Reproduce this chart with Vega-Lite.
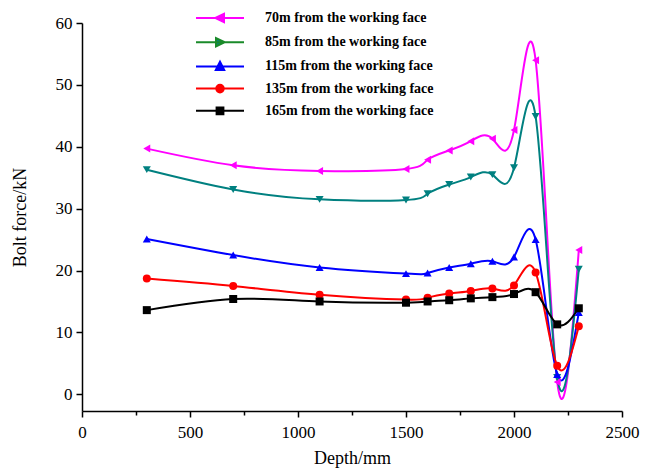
{
  "$schema": "https://vega.github.io/schema/vega-lite/v6.json",
  "autosize": "none",
  "width": 540,
  "height": 388,
  "padding": {"left": 82, "top": 23, "right": 27, "bottom": 58},
  "background": "white",
  "config": {
    "view": {"stroke": null},
    "axis": {
      "domainColor": "black", "domainWidth": 1.5, "tickColor": "black", "tickWidth": 1.5,
      "labelColor": "black", "labelFont": "Liberation Serif", "labelFontSize": 17,
      "titleColor": "black", "titleFont": "Liberation Serif", "titleFontSize": 18, "titleFontWeight": "normal",
      "grid": false
    },
    "legend": {
      "labelFont": "Liberation Serif", "labelFontWeight": "bold", "labelFontSize": 14, "labelColor": "black", "labelLimit": 0,
      "symbolSize": 64, "symbolStrokeWidth": 2, "labelOffset": 38, "rowPadding": 6.2, "padding": 0
    }
  },
  "data": {"values": [
    {"series": "70m from the working face", "depth": 300, "force": 39.7},
    {"series": "70m from the working face", "depth": 700, "force": 37.0},
    {"series": "70m from the working face", "depth": 1100, "force": 36.1},
    {"series": "70m from the working face", "depth": 1500, "force": 36.4},
    {"series": "70m from the working face", "depth": 1600, "force": 37.9},
    {"series": "70m from the working face", "depth": 1700, "force": 39.4},
    {"series": "70m from the working face", "depth": 1800, "force": 40.9},
    {"series": "70m from the working face", "depth": 1900, "force": 41.3},
    {"series": "70m from the working face", "depth": 2000, "force": 42.7},
    {"series": "70m from the working face", "depth": 2100, "force": 54.0},
    {"series": "70m from the working face", "depth": 2200, "force": 2.0},
    {"series": "70m from the working face", "depth": 2300, "force": 23.3},
    {"series": "85m from the working face", "depth": 300, "force": 36.3},
    {"series": "85m from the working face", "depth": 700, "force": 33.1},
    {"series": "85m from the working face", "depth": 1100, "force": 31.5},
    {"series": "85m from the working face", "depth": 1500, "force": 31.4},
    {"series": "85m from the working face", "depth": 1600, "force": 32.4},
    {"series": "85m from the working face", "depth": 1700, "force": 33.9},
    {"series": "85m from the working face", "depth": 1800, "force": 35.1},
    {"series": "85m from the working face", "depth": 1900, "force": 35.5},
    {"series": "85m from the working face", "depth": 2000, "force": 36.6},
    {"series": "85m from the working face", "depth": 2100, "force": 44.9},
    {"series": "85m from the working face", "depth": 2200, "force": 2.7},
    {"series": "85m from the working face", "depth": 2300, "force": 20.2},
    {"series": "115m from the working face", "depth": 300, "force": 25.1},
    {"series": "115m from the working face", "depth": 700, "force": 22.5},
    {"series": "115m from the working face", "depth": 1100, "force": 20.5},
    {"series": "115m from the working face", "depth": 1500, "force": 19.5},
    {"series": "115m from the working face", "depth": 1600, "force": 19.6},
    {"series": "115m from the working face", "depth": 1700, "force": 20.5},
    {"series": "115m from the working face", "depth": 1800, "force": 21.1},
    {"series": "115m from the working face", "depth": 1900, "force": 21.5},
    {"series": "115m from the working face", "depth": 2000, "force": 22.2},
    {"series": "115m from the working face", "depth": 2100, "force": 25.0},
    {"series": "115m from the working face", "depth": 2200, "force": 3.2},
    {"series": "115m from the working face", "depth": 2300, "force": 13.2},
    {"series": "135m from the working face", "depth": 300, "force": 18.7},
    {"series": "135m from the working face", "depth": 700, "force": 17.5},
    {"series": "135m from the working face", "depth": 1100, "force": 16.1},
    {"series": "135m from the working face", "depth": 1500, "force": 15.3},
    {"series": "135m from the working face", "depth": 1600, "force": 15.6},
    {"series": "135m from the working face", "depth": 1700, "force": 16.3},
    {"series": "135m from the working face", "depth": 1800, "force": 16.7},
    {"series": "135m from the working face", "depth": 1900, "force": 17.1},
    {"series": "135m from the working face", "depth": 2000, "force": 17.6},
    {"series": "135m from the working face", "depth": 2100, "force": 19.7},
    {"series": "135m from the working face", "depth": 2200, "force": 4.6},
    {"series": "135m from the working face", "depth": 2300, "force": 11.0},
    {"series": "165m from the working face", "depth": 300, "force": 13.6},
    {"series": "165m from the working face", "depth": 700, "force": 15.4},
    {"series": "165m from the working face", "depth": 1100, "force": 15.0},
    {"series": "165m from the working face", "depth": 1500, "force": 14.8},
    {"series": "165m from the working face", "depth": 1600, "force": 15.0},
    {"series": "165m from the working face", "depth": 1700, "force": 15.2},
    {"series": "165m from the working face", "depth": 1800, "force": 15.5},
    {"series": "165m from the working face", "depth": 1900, "force": 15.7},
    {"series": "165m from the working face", "depth": 2000, "force": 16.2},
    {"series": "165m from the working face", "depth": 2100, "force": 16.5},
    {"series": "165m from the working face", "depth": 2200, "force": 11.3},
    {"series": "165m from the working face", "depth": 2300, "force": 13.9}
  ]},
  "resolve": {"scale": {"shape": "independent", "fill": "independent", "stroke": "independent"}},
  "layer": [
    {
      "mark": {"type": "line", "interpolate": "natural", "strokeWidth": 2},
      "encoding": {
        "x": {"field": "depth", "type": "quantitative", "scale": {"domain": [0, 2500], "nice": false, "zero": false},
          "axis": {"title": "Depth/mm", "values": [0, 250, 500, 750, 1000, 1250, 1500, 1750, 2000, 2250, 2500], "format": "d",
            "labelExpr": "datum.value % 500 === 0 ? datum.label : ''",
            "tickSize": {"condition": {"test": "datum.value % 500 === 0", "value": 6}, "value": 4},
            "labelFlush": false, "labelPadding": 7, "titlePadding": 9, "orient": "bottom"}},
        "y": {"field": "force", "type": "quantitative", "scale": {"domain": [-2.7, 60], "nice": false, "zero": false},
          "axis": {"title": "Bolt force/kN", "values": [0, 5, 10, 15, 20, 25, 30, 35, 40, 45, 50, 55, 60], "format": "d",
            "labelExpr": "datum.value % 10 === 0 ? datum.label : ''",
            "tickSize": {"condition": {"test": "datum.value % 10 === 0", "value": 6}, "value": 4},
            "labelFlush": false, "labelPadding": 4, "titlePadding": 26, "orient": "left"}},
        "color": {"field": "series", "type": "nominal", "legend": null,
          "scale": {"domain": ["70m from the working face", "85m from the working face", "115m from the working face", "135m from the working face", "165m from the working face"],
            "range": ["#ff00ff", "#008080", "#0000ff", "#ff0000", "#000000"]}},
        "detail": {"field": "series"}
      }
    },
    {
      "mark": {"type": "point", "filled": true, "size": 64, "opacity": 1},
      "encoding": {
        "x": {"field": "depth", "type": "quantitative"},
        "y": {"field": "force", "type": "quantitative"},
        "color": {"field": "series", "type": "nominal", "legend": null},
        "shape": {"field": "series", "type": "nominal", "legend": null,
          "scale": {"domain": ["70m from the working face", "85m from the working face", "115m from the working face", "135m from the working face", "165m from the working face"],
            "range": ["triangle-left", "triangle-down", "triangle-up", "circle", "square"]}}
      }
    },
    {
      "transform": [{"filter": "datum.depth < 0"}],
      "mark": {"type": "point", "filled": true, "strokeWidth": 2, "opacity": 1},
      "encoding": {
        "x": {"field": "depth", "type": "quantitative"},
        "y": {"field": "force", "type": "quantitative"},
        "fill": {"field": "series", "type": "nominal",
          "scale": {"domain": ["70m from the working face", "85m from the working face", "115m from the working face", "135m from the working face", "165m from the working face"],
            "range": ["#ff00ff", "#008080", "#0000ff", "#ff0000", "#000000"]},
          "legend": {"title": null, "orient": "none", "legendX": 131, "legendY": -12, "direction": "vertical"}},
        "stroke": {"field": "series", "type": "nominal",
          "scale": {"domain": ["70m from the working face", "85m from the working face", "115m from the working face", "135m from the working face", "165m from the working face"],
            "range": ["#ff00ff", "#1a8a2a", "#0000ff", "#ff0000", "#000000"]},
          "legend": {"title": null, "orient": "none", "legendX": 131, "legendY": -12, "direction": "vertical"}},
        "shape": {"field": "series", "type": "nominal",
          "scale": {"domain": ["70m from the working face", "85m from the working face", "115m from the working face", "135m from the working face", "165m from the working face"],
            "range": [
              "M-6,0H6M-1.15,0L1,-1.05L1,1.05Z",
              "M-6,0H6M1.15,0L-1,-1.05L-1,1.05Z",
              "M-6,0H6M0,-1.15L1.05,0.9L-1.05,0.9Z",
              "M-6,0H6M-0.95,0A0.95,0.95,0,1,0,0.95,0A0.95,0.95,0,1,0,-0.95,0Z",
              "M-6,0H6M-0.85,-0.85H0.85V0.85H-0.85Z"
            ]},
          "legend": {"title": null, "orient": "none", "legendX": 131, "legendY": -12, "direction": "vertical"}}
      }
    }
  ]
}
